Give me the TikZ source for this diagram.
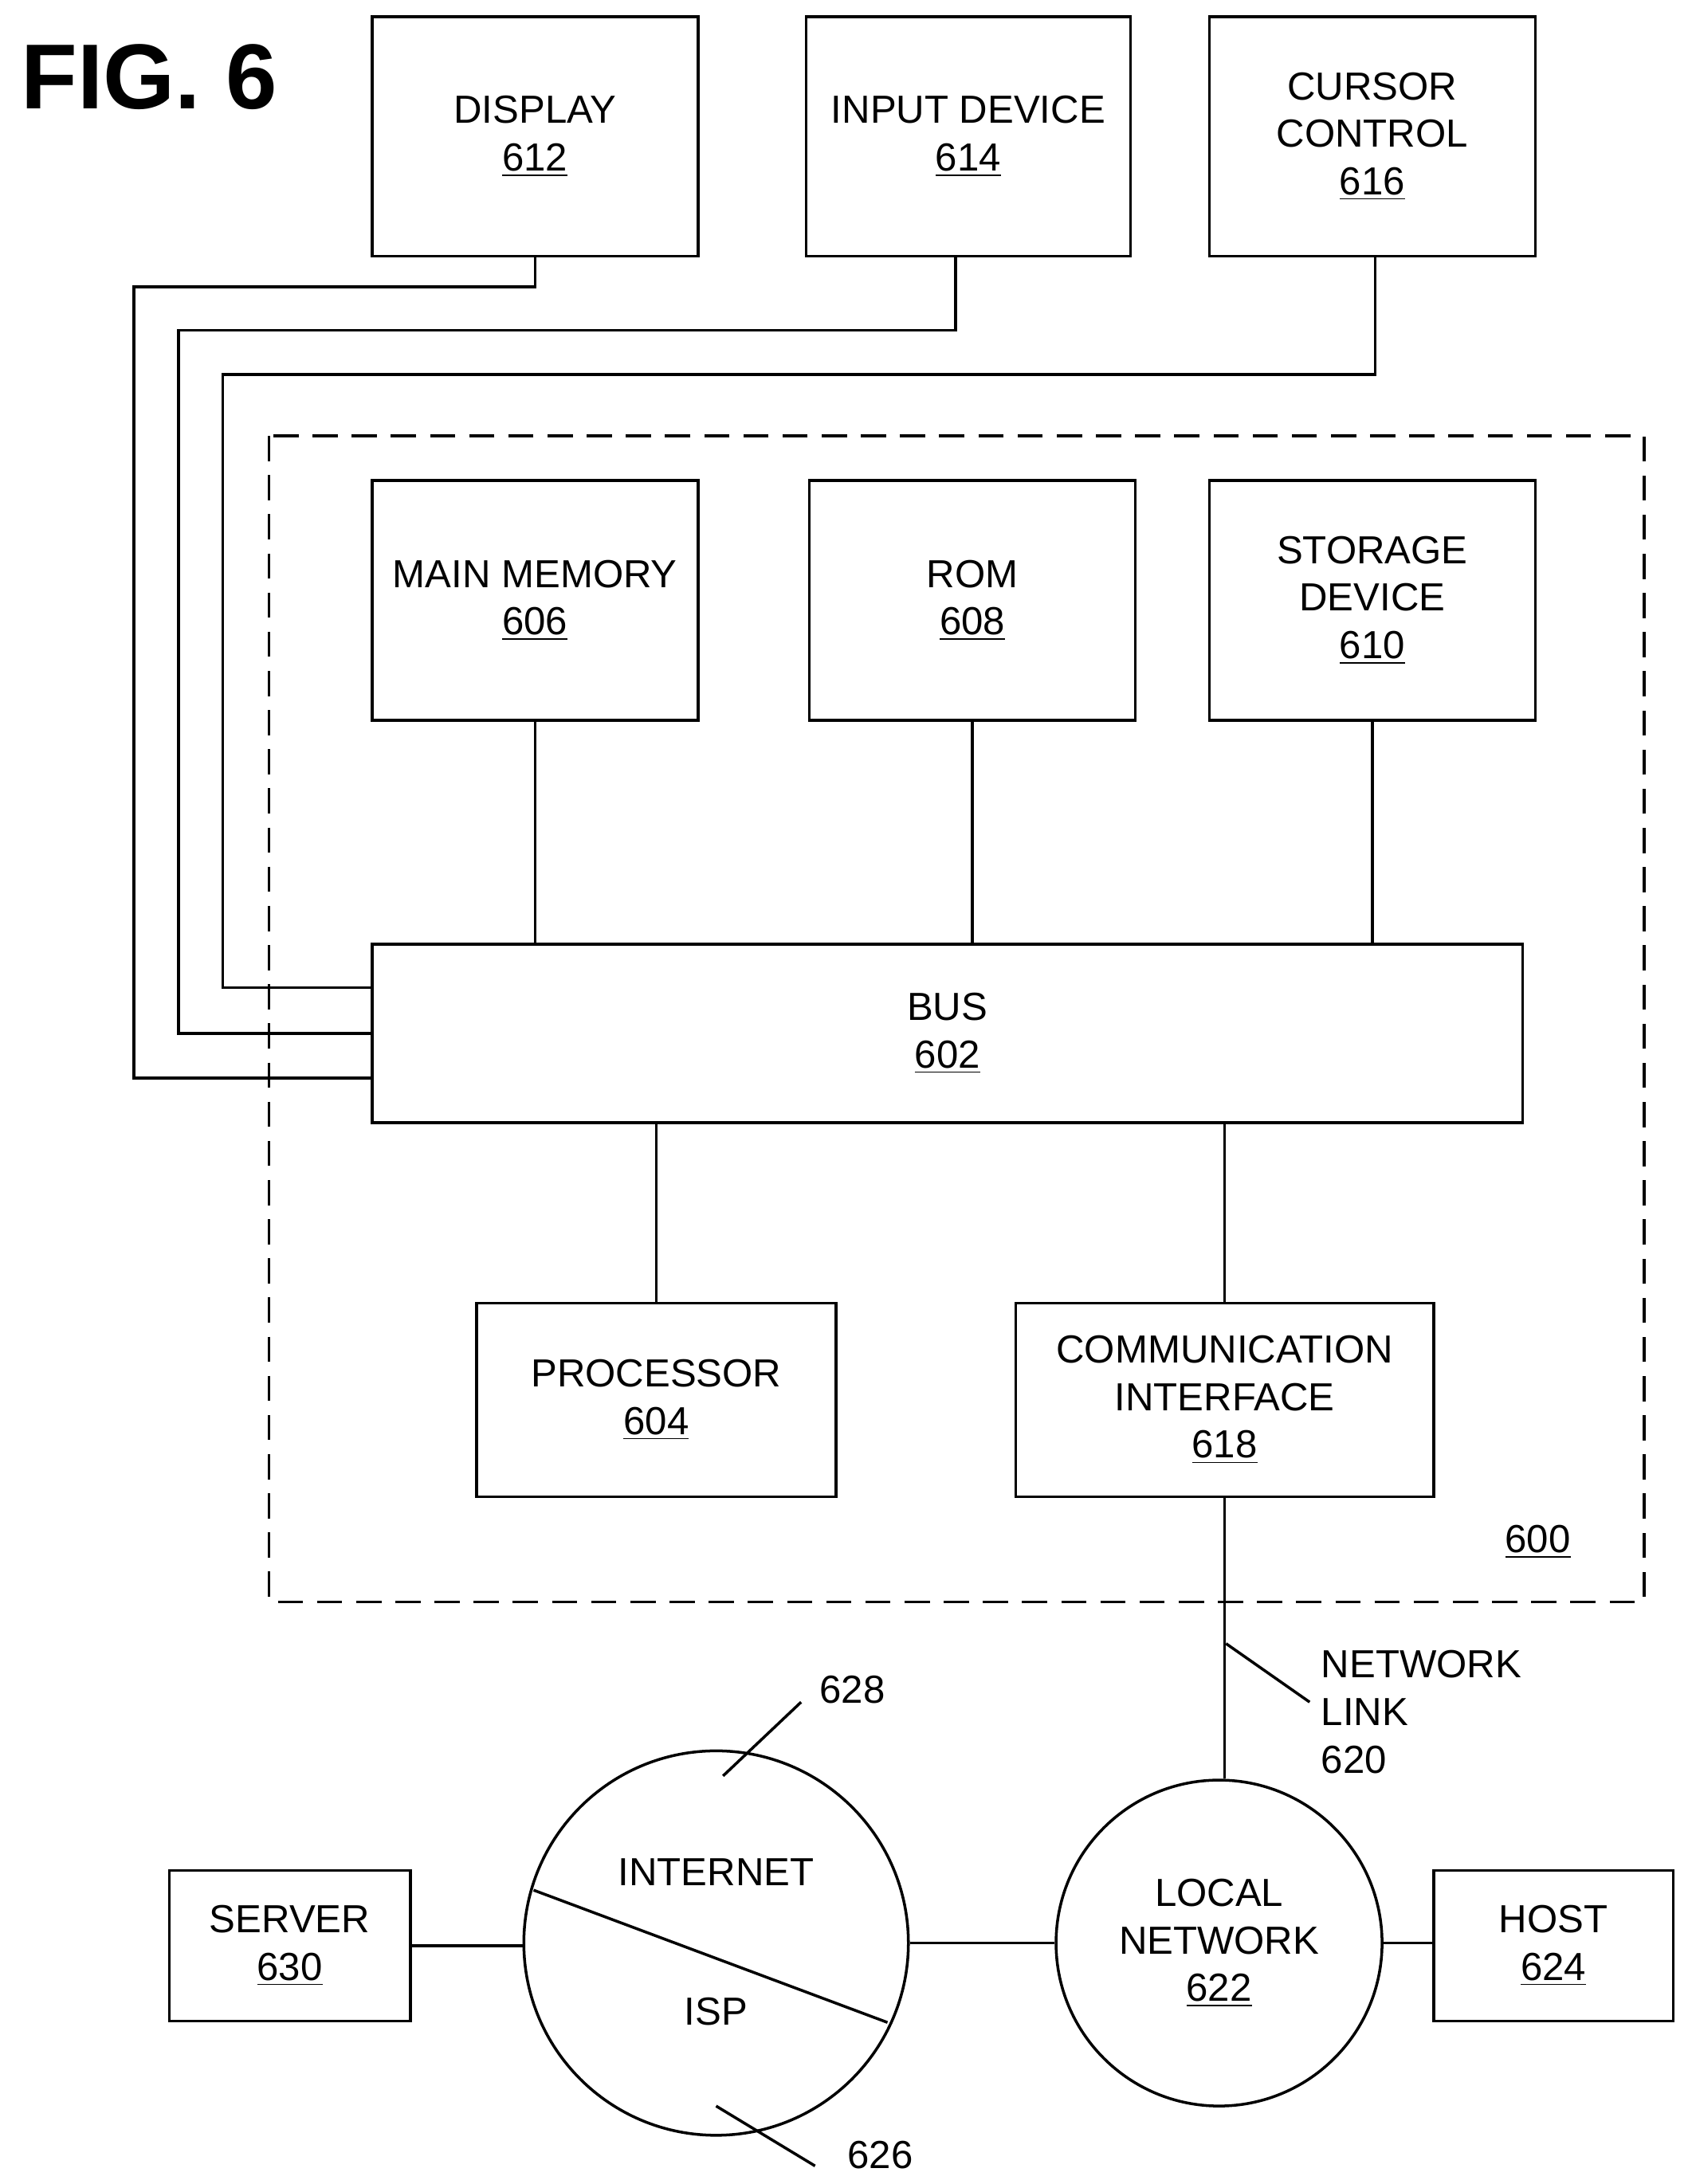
\documentclass[tikz,border=0pt]{standalone}
\usepackage{fontspec}
\setmainfont{Liberation Sans}
\usetikzlibrary{positioning}
\tikzset{
  box/.style = {draw, line width = 1pt, align = center, inner sep = 0pt,
    font = \fontsize{14}{17}\selectfont},
  wire/.style = {line width = 1pt},
  tag/.style = {align = left, anchor = west, inner sep = 0pt,
    font = \fontsize{14}{17}\selectfont}
}
\newcommand{\refno}[1]{\underline{#1}}

\begin{document}
\begin{tikzpicture}[x = 0.0175cm, y = -0.0175cm]
  \useasboundingbox (0, 0) rectangle (1214, 1568);

  \node[anchor = west, font = \fontsize{33}{36}\selectfont\bfseries] at (8, 55) {FIG. 6};

  % peripheral devices
  \node[box, minimum width = 234*0.0175cm, minimum height = 172*0.0175cm] (disp) at (384, 98) {DISPLAY\\\refno{612}};
  \node[box, minimum width = 233*0.0175cm, minimum height = 172*0.0175cm] (inp) at (695, 98) {INPUT DEVICE\\\refno{614}};
  \node[box, minimum width = 234*0.0175cm, minimum height = 172*0.0175cm] (cur) at (985, 98) {CURSOR\\CONTROL\\\refno{616}};

  % computer system
  \draw[wire, dashed, dash pattern = on 9pt off 5pt] (193, 313) rectangle (1180, 1150);
  \node[tag] at (1080, 1107) {\refno{600}};

  \node[box, minimum width = 234*0.0175cm, minimum height = 172*0.0175cm] (mem) at (384, 431) {MAIN MEMORY\\\refno{606}};
  \node[box, minimum width = 234*0.0175cm, minimum height = 172*0.0175cm] (rom) at (698, 431) {ROM\\\refno{608}};
  \node[box, minimum width = 234*0.0175cm, minimum height = 172*0.0175cm] (stor) at (985, 431) {STORAGE\\DEVICE\\\refno{610}};

  \node[box, minimum width = 826*0.0175cm, minimum height = 128*0.0175cm] (bus) at (680, 742) {BUS\\\refno{602}};

  \node[box, minimum width = 258*0.0175cm, minimum height = 139*0.0175cm] (proc) at (471, 1005) {PROCESSOR\\\refno{604}};
  \node[box, minimum width = 300*0.0175cm, minimum height = 139*0.0175cm] (comm) at (879, 1005) {COMMUNICATION\\INTERFACE\\\refno{618}};

  % networks
  \node[box, circle, minimum size = 276*0.0175cm] (inet) at (514, 1395) {};
  \node[box, circle, minimum size = 234*0.0175cm] (lan) at (875, 1395) {LOCAL\\NETWORK\\\refno{622}};
  \node[box, minimum width = 173*0.0175cm, minimum height = 108*0.0175cm] (srv) at (208, 1397) {SERVER\\\refno{630}};
  \node[box, minimum width = 172*0.0175cm, minimum height = 108*0.0175cm] (host) at (1115, 1397) {HOST\\\refno{624}};
  \node[box, draw = none] at (514, 1344) {INTERNET};
  \node[box, draw = none] at (514, 1444) {ISP};

  % wiring
  \draw[wire] (disp.south) -- (384, 206) -- (96, 206) |- (bus.west |- 0, 774);
  \draw[wire] (686, 0 |- inp.south) -- (686, 237) -- (128, 237) |- (bus.west |- 0, 742);
  \draw[wire] (987, 0 |- cur.south) -- (987, 269) -- (160, 269) |- (bus.west |- 0, 709);
  \draw[wire] (mem.south) -- (bus.north -| mem.south);
  \draw[wire] (rom.south) -- (bus.north -| rom.south);
  \draw[wire] (stor.south) -- (bus.north -| stor.south);
  \draw[wire] (bus.south -| proc.north) -- (proc.north);
  \draw[wire] (bus.south -| comm.north) -- (comm.north);
  \draw[wire] (comm.south) -- (lan.north -| comm.south);
  \draw[wire] (srv.east) -- (inet.west |- srv.east);
  \draw[wire] (inet.east) -- (lan.west);
  \draw[wire] (lan.east) -- (host.west |- lan.east);
  \draw[wire] (383, 1357) -- (637, 1452);

  % reference leaders
  \draw[wire] (880, 1180) -- (940, 1222);
  \node[tag] (link) at (948, 1229) {NETWORK\\LINK\\620};
  \draw[wire] (519, 1275) -- (575, 1222);
  \node[tag] (isp) at (588, 1213) {628};
  \draw[wire] (514, 1512) -- (585, 1555);
  \node[tag] (net) at (608, 1547) {626};
\end{tikzpicture}
\end{document}
